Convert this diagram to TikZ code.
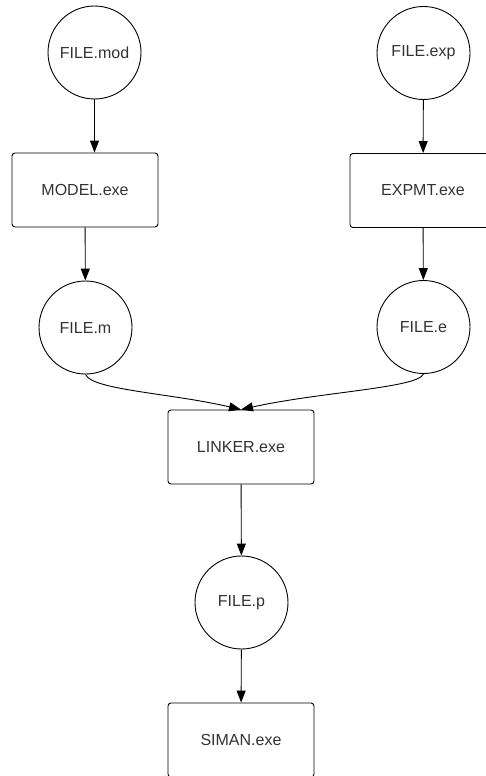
\documentclass[tikz,border=0pt]{standalone}
\usepackage{fontspec}
\setmainfont{Liberation Sans}
\usepackage{tikz}
\usetikzlibrary{arrows.meta}

\begin{document}
\begin{tikzpicture}[x=1pt,y=-1pt,->,>={Triangle[length=12pt,width=9pt]},line width=0.9pt,
                    file node/.style={circle,draw,minimum size=93pt,inner sep=0pt,font=\fontsize{16}{19}\selectfont,text=black!80},
                    prog node/.style={rectangle,draw,rounded corners=3pt,minimum width=146pt,minimum height=74pt,inner sep=0pt,font=\fontsize{16}{19}\selectfont,text=black!80}]

  \useasboundingbox (0,0) rectangle (486,776);
  \clip (0,0) rectangle (486,776);

  \node[file node] (mod) at (94.5,52.5) {FILE.mod};
  \node[prog node] (model) at (85,190) {MODEL.exe};
  \node[file node] (m) at (85.5,327.5) {FILE.m};

  \node[file node] (exp) at (423.5,53) {FILE.exp};
  \node[prog node] (expmt) at (423,190.5) {EXPMT.exe};
  \node[file node] (e) at (423.5,327) {FILE.e};

  \node[prog node] (linker) at (241,447) {LINKER.exe};
  \node[file node] (p) at (241.5,602.5) {FILE.p};
  \node[prog node] (siman) at (241,740) {SIMAN.exe};

  \draw (mod.south) -- (mod.south |- model.north);
  \draw (model) -- (m);
  \draw (exp) -- (expmt);
  \draw (expmt) -- (e);
  \draw (m.south) .. controls (92,390) and (170,393) .. (linker.north);
  \draw (e.south) .. controls (418,388) and (320,392) .. (linker.north);
  \draw (linker) -- (p);
  \draw (p) -- (siman);
\end{tikzpicture}
\end{document}
